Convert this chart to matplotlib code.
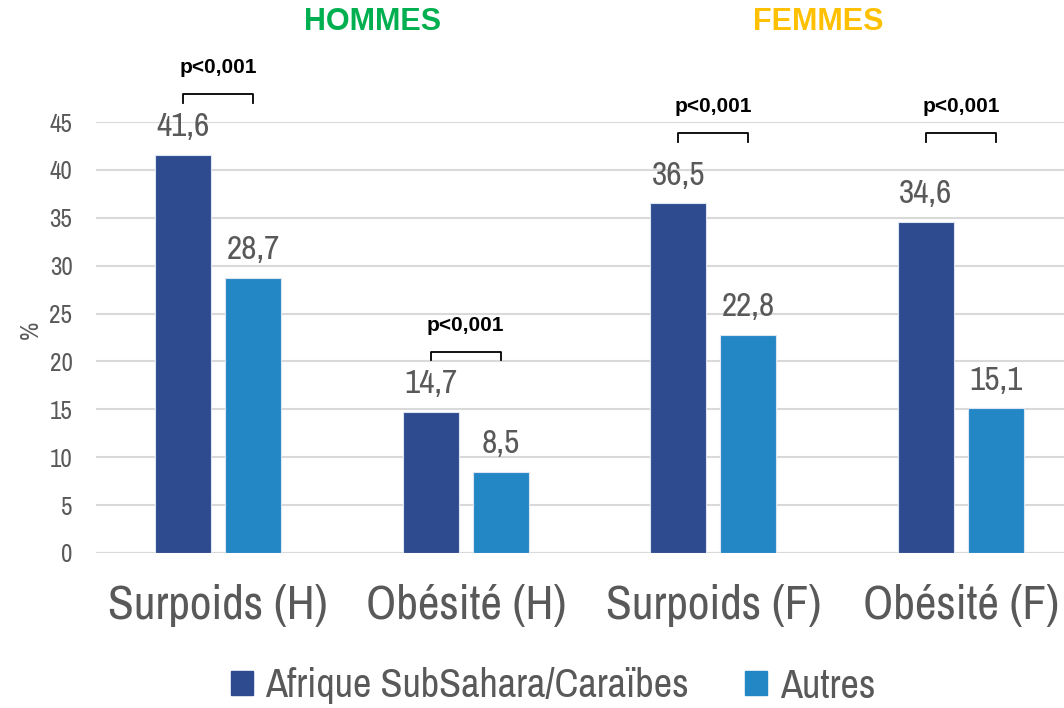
import numpy as np
import matplotlib
matplotlib.use("Agg")
import matplotlib.pyplot as plt
from matplotlib.patches import Patch

# data
categories = ["Surpoids (H)", "Obésité (H)", "Surpoids (F)", "Obésité (F)"]
afrique = [41.6, 14.7, 36.5, 34.6]
autres = [28.7, 8.5, 22.8, 15.1]
series_names = ["Afrique SubSahara/Caraïbes", "Autres"]
pvals = ["p<0,001", "p<0,001", "p<0,001", "p<0,001"]
yticks = [0, 5, 10, 15, 20, 25, 30, 35, 40, 45]

dark = "#2F4B8F"
light = "#2387C6"
grey = "#595959"

plt.rcParams["font.family"] = ["Archivo Narrow", "DejaVu Sans"]

fig = plt.figure(figsize=(10.64, 7.08), dpi=100)
ax = fig.add_axes([96 / 1064, 1 - 553 / 708, 968 / 1064, 431 / 708])

x = np.arange(len(categories))
w = 0.226
off = 0.1414
b1 = ax.bar(x - off, afrique, w, color=dark, edgecolor="#DCE6F2", linewidth=0.8, zorder=3)
b2 = ax.bar(x + off, autres, w, color=light, edgecolor="#DCE6F2", linewidth=0.8, zorder=3)

for bars in (b1, b2):
    for r in bars:
        h = r.get_height()
        ax.annotate(f"{h:.1f}".replace(".", ","), (r.get_x() + r.get_width() / 2, h),
                    xytext=(0, 20), textcoords="offset points", ha="center", va="center",
                    fontsize=24, color=grey)

# brackets with p-values
tops = [max(a, b) + 6.3 for a, b in zip(afrique, autres)]
ftop = max(tops[2], tops[3]) + 1.0
tops[2] = ftop
tops[3] = ftop
for i, p in enumerate(pvals):
    y0 = tops[i]
    ax.plot([x[i] - off, x[i] - off, x[i] + off, x[i] + off], [y0 - 0.9, y0, y0, y0 - 0.9],
            color="black", lw=1.3, clip_on=False, zorder=4)
    ax.text(x[i], y0 + 2.8, p, ha="center", va="center", fontsize=15, fontweight="bold",
            family="Liberation Sans", color="black", clip_on=False)

ax.set_xlim(-0.493, 3.416)
ax.set_ylim(0, 45)
ax.set_yticks(yticks)
ax.set_xticks(x)
ax.set_xticklabels(categories, fontsize=34, color=grey)
ax.tick_params(axis="y", length=0, pad=17, labelsize=18, labelcolor=grey)
ax.tick_params(axis="x", length=0, pad=22)
ax.yaxis.grid(True, color="#D9D9D9", lw=1.5, zorder=0)
for s in ax.spines.values():
    s.set_visible(False)
ax.axhline(0, color="#D9D9D9", lw=1.5, zorder=2)

fig.text(30 / 1064, 1 - 330 / 708, "%", rotation=90, ha="center", va="center", fontsize=18, color=grey)
fig.text(373 / 1064, 1 - 22 / 708, "HOMMES", ha="center", va="center", fontsize=22,
         fontweight="bold", family="Liberation Sans", color="#00B050")
fig.text(818 / 1064, 1 - 22 / 708, "FEMMES", ha="center", va="center", fontsize=22,
         fontweight="bold", family="Liberation Sans", color="#FFC000")

handles = [Patch(color=dark), Patch(color=light)]
fig.legend(handles, series_names, loc="center", bbox_to_anchor=(553 / 1064, 1 - 686 / 708),
           ncol=2, frameon=False, fontsize=29, handlelength=0.55, handleheight=0.55,
           handletextpad=0.3, columnspacing=1.4, labelcolor=grey)

fig.savefig("out.png", dpi=100)
